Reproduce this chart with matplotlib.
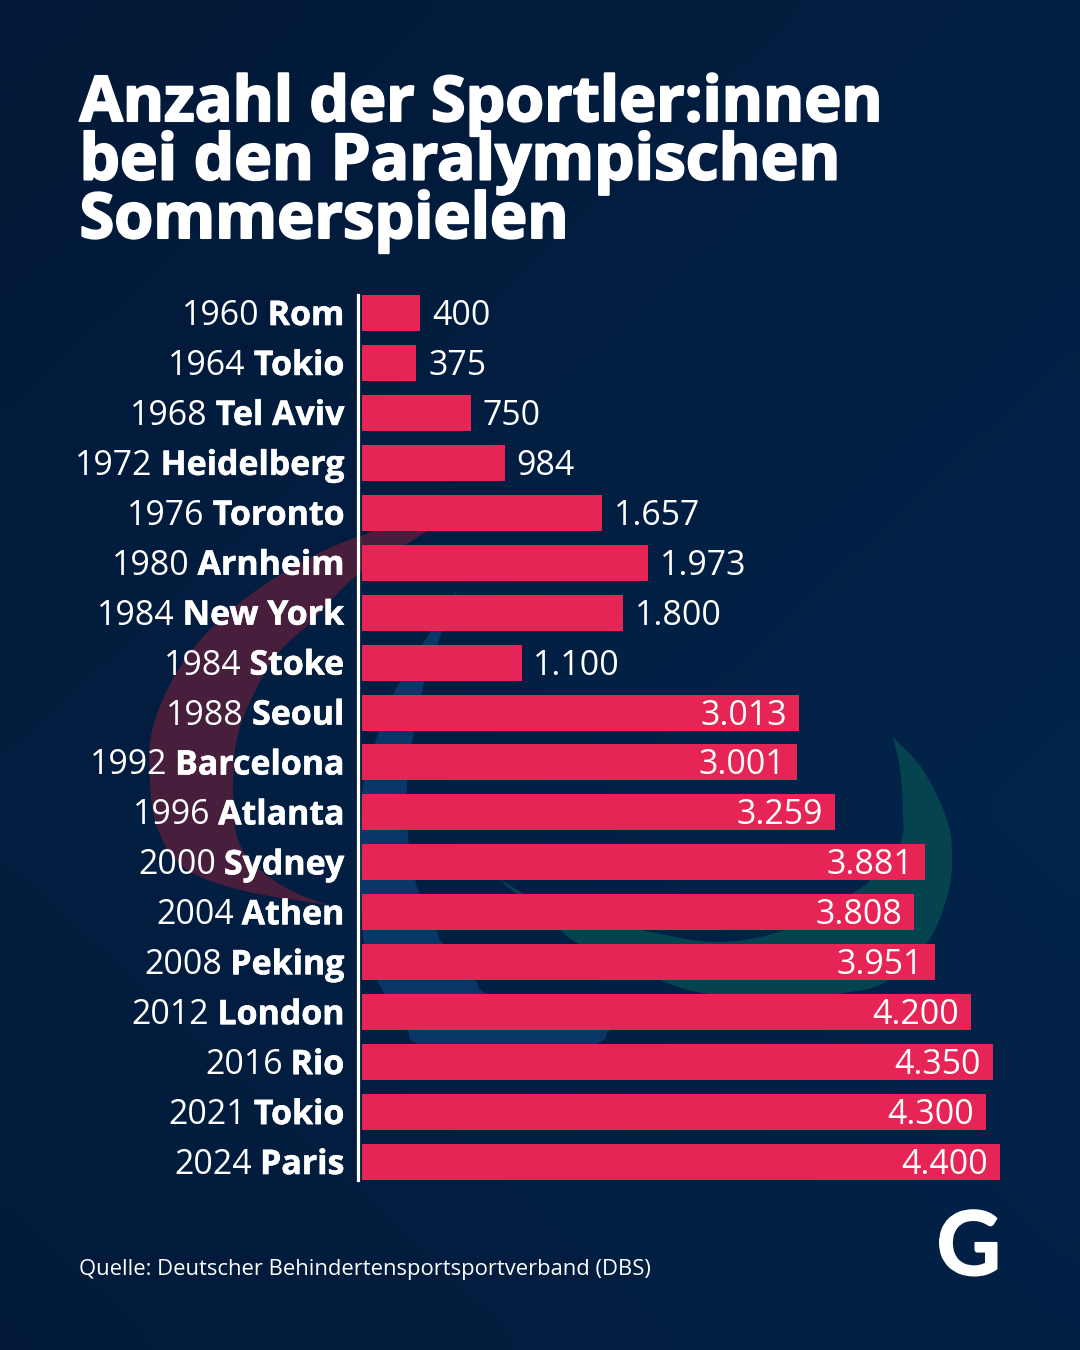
import numpy as np
import matplotlib
matplotlib.use('Agg')
import matplotlib.pyplot as plt
import matplotlib.patheffects as pe
from matplotlib.patches import Polygon

W, H = 1080, 1350

years = ['1960', '1964', '1968', '1972', '1976', '1980', '1984', '1984', '1988',
         '1992', '1996', '2000', '2004', '2008', '2012', '2016', '2021', '2024']
cities = ['Rom', 'Tokio', 'Tel Aviv', 'Heidelberg', 'Toronto', 'Arnheim', 'New York', 'Stoke', 'Seoul',
          'Barcelona', 'Atlanta', 'Sydney', 'Athen', 'Peking', 'London', 'Rio', 'Tokio', 'Paris']
athletes = [400, 375, 750, 984, 1657, 1973, 1800, 1100, 3013,
            3001, 3259, 3881, 3808, 3951, 4200, 4350, 4300, 4400]

title_lines = ['Anzahl der Sportler:innen', 'bei den Paralympischen', 'Sommerspielen']
source = 'Quelle: Deutscher Behindertensportsportverband (DBS)'

FONT = 'Open Sans'
BAR_RED = '#e62455'


def de_number(v):
    return '{:,}'.format(v).replace(',', '.')


def smooth(points, n=12):
    # Catmull-Rom through the traced edge points
    p = np.array(points, dtype=float)
    p = np.vstack([2 * p[0] - p[1], p, 2 * p[-1] - p[-2]])
    out = []
    for i in range(1, len(p) - 2):
        for t in np.linspace(0, 1, n, endpoint=False):
            out.append(0.5 * (2 * p[i] + (p[i + 1] - p[i - 1]) * t
                              + (2 * p[i - 1] - 5 * p[i] + 4 * p[i + 1] - p[i + 2]) * t ** 2
                              + (3 * p[i] - p[i - 1] - 3 * p[i + 1] + p[i + 2]) * t ** 3))
    out.append(p[-2])
    return np.array(out)


def crescent(bg, outer, inner, color):
    # both edges traced tip to tip, in image pixels
    verts = np.vstack([smooth(outer), smooth(inner)[::-1]])
    verts[:, 1] = H - verts[:, 1]
    bg.add_patch(Polygon(verts, closed=True, facecolor=color, edgecolor='none', zorder=1))


fig = plt.figure(figsize=(W / 100, H / 100), dpi=100)

# background with the faint agitos shapes
bg = fig.add_axes([0, 0, 1, 1])
bg.set_xlim(0, W)
bg.set_ylim(0, H)
bg.axis('off')
yy, xx = np.mgrid[0:1:60j, 0:1:60j]
shade = np.clip(0.6 * xx + 0.4 * (1 - np.abs(yy - 0.6) * 2), 0, 1)
c0 = np.array([0x02, 0x19, 0x38]) / 255
c1 = np.array([0x03, 0x24, 0x4b]) / 255
bg.imshow(c0 + (c1 - c0) * shade[..., None], extent=[0, W, 0, H], aspect='auto', interpolation='bicubic', zorder=0)

crescent(bg,
         [(475, 505), (357, 537), (283, 573), (223, 617), (180, 667), (153, 727), (150, 780), (157, 827), (183, 867),
          (240, 890), (327, 905)],
         [(475, 505), (427, 531), (407, 544), (357, 575), (313, 620), (273, 660), (240, 727), (233, 787), (237, 837),
          (257, 867), (290, 890), (327, 905)],
         '#471f3d')
crescent(bg,
         [(457, 590), (427, 637), (397, 687), (377, 737), (363, 787), (361, 837), (361, 887), (364, 944), (377, 980),
          (407, 1030), (418, 1044), (505, 1078), (596, 1044), (610, 1030), (650, 1000)],
         [(457, 590), (440, 637), (423, 687), (413, 737), (407, 787), (408, 837), (417, 887), (436, 930), (443, 944),
          (475, 980), (488, 994), (570, 1020), (650, 1000)],
         '#0a3768')
crescent(bg,
         [(497, 878), (530, 905), (560, 930), (580, 944), (660, 980), (703, 993), (770, 1000), (843, 993), (885, 982),
          (927, 943), (947, 897), (952, 860), (947, 820), (923, 770), (893, 737)],
         [(497, 878), (560, 912), (640, 930), (723, 942), (800, 925), (853, 893), (870, 880), (900, 843), (903, 813),
          (900, 770), (893, 737)],
         '#05444f')

ax = fig.add_axes([362 / W, 1 - 1180 / H, (1000 - 362) / W, (1180 - 295) / H])
ax.patch.set_alpha(0)
pitch = (1162 - 313) / 17
y_pos = np.arange(len(years))
ax.barh(y_pos, athletes, height=36 / pitch, color=BAR_RED, linewidth=0)
ax.set_xlim(0, 4400)
ax.set_ylim(17 + 18 / pitch, -18 / pitch)
ax.xaxis.set_visible(False)
ax.tick_params(left=False, labelleft=False)
for s in ['top', 'right', 'bottom']:
    ax.spines[s].set_visible(False)
ax.spines['left'].set_color('white')
ax.spines['left'].set_linewidth(2.3)
ax.spines['left'].set_position(('outward', 2.6))

renderer = fig.canvas.get_renderer()
tr = ax.get_yaxis_transform()
LABEL_SIZE = 24.4
UP = 0.7  # labels sit a touch above the bar centre
heavy = [pe.withStroke(linewidth=0.4, foreground='white')]
for i, (year, city, n) in enumerate(zip(years, cities, athletes)):
    # city bold on the right, year in regular just left of it
    t = ax.annotate(city, (0, i), xytext=(-13.0, UP), textcoords='offset points', xycoords=tr,
                    ha='right', va='center_baseline', color='white', fontsize=LABEL_SIZE,
                    family=FONT, fontweight='bold', path_effects=heavy)
    w = t.get_window_extent(renderer).width * 0.72
    ax.annotate(year, (0, i), xytext=(-13.0 - w - 5.8, UP), textcoords='offset points', xycoords=tr,
                ha='right', va='center_baseline', color='white', fontsize=LABEL_SIZE, family=FONT)
    if n > 2500:
        ax.annotate(de_number(n), (n, i), xytext=(-8.5, UP), textcoords='offset points',
                    ha='right', va='center_baseline', color='white', fontsize=LABEL_SIZE, family=FONT)
    else:
        ax.annotate(de_number(n), (n, i), xytext=(8.5, UP), textcoords='offset points',
                    ha='left', va='center_baseline', color='white', fontsize=LABEL_SIZE, family=FONT)

# second line runs a little wider in the original
for k, (line, size) in enumerate(zip(title_lines, [45.2, 46.0, 45.4])):
    fig.text(79.5 / W, 1 - (121 + 58.5 * k) / H, line, color='white', fontsize=size, family=FONT,
             fontweight='bold', ha='left', va='baseline',
             path_effects=[pe.withStroke(linewidth=1.5, foreground='white')])

fig.text(79 / W, 1 - 1275 / H, source, color='white', fontsize=15.8, family=FONT, ha='left', va='baseline')
fig.text(1001 / W, 1 - 1275 / H, 'G', color='white', fontsize=64, family='Lato', fontweight='bold', ha='right', va='baseline',
         path_effects=[pe.withStroke(linewidth=1.2, foreground='white')])

fig.savefig('out.png', dpi=100)
